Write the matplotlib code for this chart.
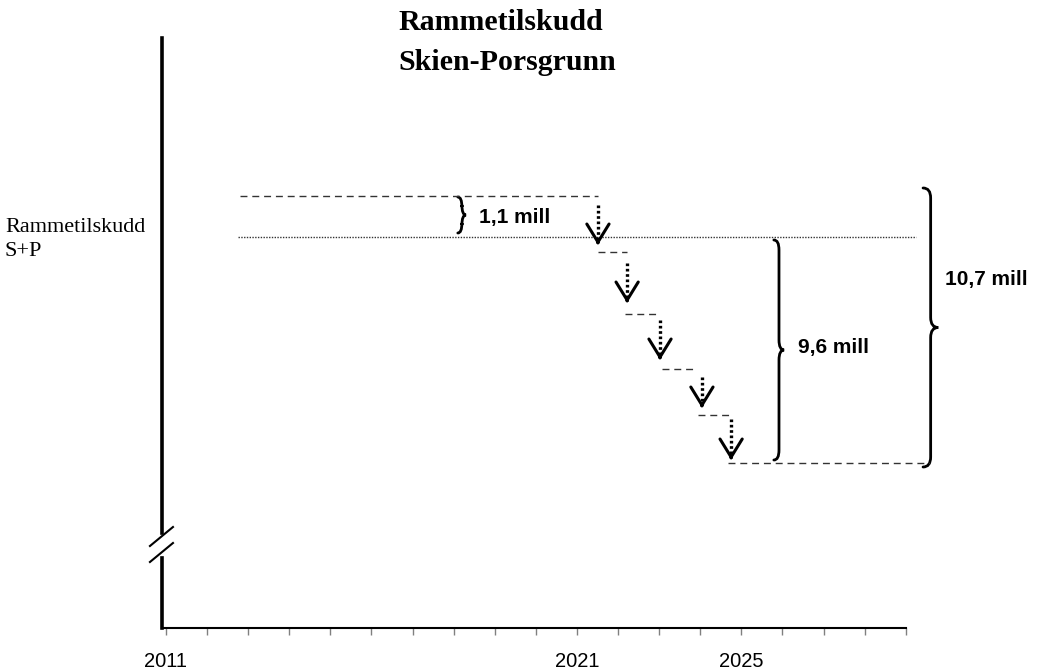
import matplotlib
matplotlib.use("Agg")
import matplotlib.pyplot as plt
from matplotlib.path import Path
from matplotlib.patches import PathPatch

# --- data -------------------------------------------------------------------
years = list(range(2011, 2030))
shown_years = [2011, 2021, 2025]

top_level = 43.2       # old rammetilskudd level (dashed)
frame_level = 39.1     # dotted reference line
bottom_level = 16.5    # level in 2025

top_line = (2012.80, 2021.51)
frame_line = (2012.75, 2029.25)
bottom_line = (2024.67, 2029.59)

# step-down arrows
arrow_x = [2021.51, 2022.22, 2023.02, 2024.04, 2024.75]
arrow_from = [42.3, 36.5, 30.8, 25.1, 20.9]
arrow_to = [38.3, 32.5, 26.8, 22.0, 16.8]

# short dashed steps between the arrows
step_start = [2021.50, 2022.17, 2023.07, 2023.94]
step_end = [2022.22, 2023.02, 2023.87, 2024.75]
step_levels = [37.6, 31.4, 25.9, 21.3]

# braces: x, bottom, top, width, label, label x, label y
brace_x = [2018.10, 2025.79, 2029.42]
brace_lo = [39.5, 16.8, 16.1]
brace_hi = [43.1, 38.8, 44.0]
brace_w = [0.20, 0.25, 0.37]
brace_labels = ["1,1 mill", "9,6 mill", "10,7 mill"]
label_x = [2018.62, 2026.38, 2029.95]
label_y = [41.1, 28.0, 34.8]


def brace(ax, x, y0, y1, w, h=1.0):
    """Draw a right pointing curly brace from y0 to y1 starting at x."""
    ym = (y0 + y1) / 2
    xm = x + w / 2
    verts = [(x, y1), (xm, y1), (xm, y1 - h), (xm, ym + h),
             (xm, ym), (x + w, ym), (xm, ym), (xm, ym - h),
             (xm, y0 + h), (xm, y0), (x, y0)]
    codes = [Path.MOVETO, Path.CURVE3, Path.CURVE3, Path.LINETO,
             Path.CURVE3, Path.CURVE3, Path.CURVE3, Path.CURVE3,
             Path.LINETO, Path.CURVE3, Path.CURVE3]
    ax.add_patch(PathPatch(Path(verts, codes), fill=False, lw=2,
                           color="black", clip_on=False, capstyle="round"))


fig = plt.figure(figsize=(10.39, 6.72), dpi=100)
ax = fig.add_axes([162 / 1039, 44 / 672, 838 / 1039, 590 / 672])
x0 = 2010.903
ax.set_xlim(x0, x0 + 838 / 41.1)
ax.set_ylim(0, 59)

# axes look
for s in ["top", "right"]:
    ax.spines[s].set_visible(False)
ax.spines["left"].set_linewidth(2.6)
ax.spines["bottom"].set_linewidth(1.5)
ax.spines["bottom"].set_bounds(x0, 2029)
ax.set_yticks([])
ax.set_xticks(years)
ax.set_xticklabels([str(y) if y in shown_years else "" for y in years],
                   family="Liberation Sans", fontsize=14.5)
ax.tick_params(axis="x", direction="out", length=5, width=1,
               color="#808080", pad=12)

# axis break on the y axis
ax.plot([x0, x0], [7.6, 8.9], color="white", lw=6, clip_on=False, zorder=5)
ax.plot([2010.61, 2011.17], [8.2, 10.1], color="black", lw=1.5,
        clip_on=False, zorder=6)
ax.plot([2010.61, 2011.17], [6.6, 8.5], color="black", lw=1.5,
        clip_on=False, zorder=6)

# reference lines
dash = (0, (5, 3.5))
ax.plot(top_line, [top_level] * 2, color="#333333", lw=1, linestyle=dash)
ax.plot(frame_line, [frame_level] * 2, color="#333333", lw=1,
        linestyle=(0, (1, 1)))
ax.plot(bottom_line, [bottom_level] * 2, color="#333333", lw=1,
        linestyle=dash, clip_on=False)

for a, b, lev in zip(step_start, step_end, step_levels):
    ax.plot([a, b], [lev, lev], color="#333333", lw=1, linestyle=dash)

# dotted arrows with open heads
for x, ya, yb in zip(arrow_x, arrow_from, arrow_to):
    ax.plot([x, x], [ya, yb + 0.4], color="black", lw=2.4,
            linestyle=(0, (0.8, 0.8)))
    ax.annotate("", xy=(x, yb), xytext=(x, yb + 0.3),
                arrowprops=dict(arrowstyle="->,head_length=1.3,head_width=0.8",
                                lw=2.2, color="black", shrinkA=0, shrinkB=0))

# braces and their labels
for x, lo, hi, w, txt, tx, ty in zip(brace_x, brace_lo, brace_hi, brace_w,
                                     brace_labels, label_x, label_y):
    brace(ax, x, lo, hi, w)
    ax.text(tx, ty, txt, family="Liberation Sans", fontweight="bold",
            fontsize=15, va="center", ha="left", clip_on=False)

# title and left label
fig.text(398 / 1039, 1 - 22 / 672, "Rammetilskudd", family="Liberation Serif",
         fontweight="bold", fontsize=21.5, va="center", ha="left")
fig.text(398 / 1039, 1 - 62 / 672, "Skien-Porsgrunn", family="Liberation Serif",
         fontweight="bold", fontsize=21.5, va="center", ha="left")
fig.text(5 / 1039, 1 - 228 / 672, "Rammetilskudd", family="Liberation Serif",
         fontsize=16, va="center", ha="left")
fig.text(5 / 1039, 1 - 252 / 672, "S+P", family="Liberation Serif",
         fontsize=16, va="center", ha="left")

fig.savefig("out.png", dpi=100)
